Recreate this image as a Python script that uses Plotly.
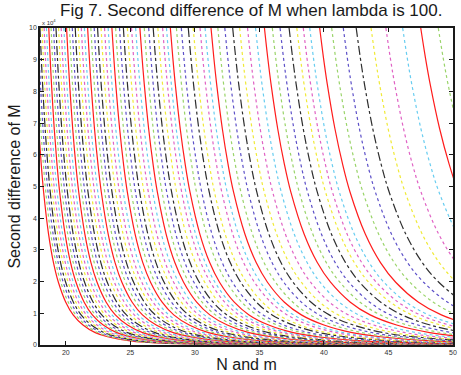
import plotly.graph_objects as go

# x position (N) where each curve sits at the top of the axes (y = 10)
curve_start = [
    17.52, 17.68, 17.84, 18.0, 18.16, 18.32, 18.5, 18.68, 18.86, 19.05,
    19.24, 19.44, 19.64, 19.85, 20.06, 20.28, 20.5, 20.73, 20.96, 21.2,
    21.44, 21.69, 21.94, 22.2, 22.46, 22.73, 23.0, 23.28, 23.57, 23.86,
    24.16, 24.46, 24.77, 25.09, 25.41, 25.74, 26.08, 26.42, 26.77, 27.13,
    27.5, 27.8, 28.1, 28.57, 28.95, 29.49, 29.87, 30.4, 30.79, 31.25,
    31.78, 32.32, 32.93, 33.47, 34.08, 34.7, 35.39, 36.0, 36.6, 37.3,
    37.9, 38.4, 38.9, 39.67, 40.6, 41.5, 42.5, 43.65, 44.8, 46.1,
    47.5, 48.86,
]
# horizontal decay length of each curve (same order)
curve_width = [
    3.81, 3.86, 3.92, 3.98, 4.04, 4.10, 4.16, 4.22, 4.29, 4.36,
    4.43, 4.50, 4.57, 4.65, 4.72, 4.80, 4.88, 4.96, 5.05, 5.13,
    5.22, 5.31, 5.40, 5.49, 5.59, 5.68, 5.78, 5.88, 5.99, 6.09,
    6.20, 6.31, 6.42, 6.53, 6.65, 6.77, 6.89, 7.01, 7.14, 7.27,
    7.40, 7.51, 7.62, 7.79, 7.92, 8.12, 8.25, 8.44, 8.58, 8.75,
    8.94, 9.14, 9.35, 9.55, 9.77, 9.99, 10.24, 10.46, 10.68, 10.93,
    11.14, 11.32, 11.50, 11.78, 12.12, 12.44, 12.80, 13.21, 13.63, 14.10,
    14.60, 15.09,
]
# common decay profile: offset (in decay lengths) and second difference value
profile_u = [0, 0.025, 0.05, 0.1, 0.15, 0.2, 0.3, 0.4, 0.5, 0.65, 0.8, 1.0,
             1.25, 1.5, 2, 2.5, 3, 4, 5]
profile_y = [10, 9.06, 8.23, 6.83, 5.72, 4.82, 3.50, 2.60, 1.98, 1.35, 0.95,
             0.63, 0.39, 0.26, 0.12, 0.067, 0.039, 0.016, 0.0077]

x_ticks = [20, 25, 30, 35, 40, 45, 50]
y_ticks = [0, 1, 2, 3, 4, 5, 6, 7, 8, 9, 10]

# colour cycle b g r c m y k as it looks on paper
line_colors = ["#5d50c8", "#9ad46a", "#ff1c1c", "#68cdf0", "#e062c4", "#f0ea38", "#2e2e2e"]
line_dash = ["dot", "dot", "solid", "dot", "dot", "dot", "dashdot"]

fig = go.Figure()
n = len(curve_start)
for i in range(n):
    k = n - 1 - i          # counted from the right-hand curve
    ci = (k + 1) % 7
    x0 = curve_start[i]
    w = curve_width[i]
    fig.add_trace(go.Scatter(
        x=[x0 + w * u for u in profile_u],
        y=profile_y,
        mode="lines",
        line=dict(color=line_colors[ci], width=1.2, dash=line_dash[ci], shape="spline"),
        hoverinfo="skip",
        showlegend=False,
    ))

axis_common = dict(
    showline=True, linecolor="#1a1a1a", linewidth=1.5, mirror="allticks",
    ticks="inside", ticklen=4, tickcolor="#1a1a1a", showgrid=False, zeroline=False,
    tickfont=dict(family="Liberation Sans", size=7, color="#333333"),
)

fig.update_layout(
    width=461, height=375,
    margin=dict(l=40, r=4, t=28, b=30),
    paper_bgcolor="white", plot_bgcolor="white",
    title=dict(text="Fig 7. Second difference of M when lambda is 100.",
               x=0.545, xanchor="center", y=0.972, yanchor="middle",
               font=dict(family="Liberation Sans", size=17, color="#1a1a1a")),
    xaxis=dict(range=[18, 50], tickvals=x_ticks, ticktext=[str(v) for v in x_ticks],
               title=dict(text="N and m", standoff=1,
                          font=dict(family="Liberation Sans", size=16, color="#1a1a1a")),
               **axis_common),
    yaxis=dict(range=[0, 10], tickvals=y_ticks, ticktext=[str(v) for v in y_ticks],
               title=dict(text="Second difference of M", standoff=4,
                          font=dict(family="Liberation Sans", size=16, color="#1a1a1a")),
               **axis_common),
    annotations=[dict(text="x 10<sup>4</sup>", xref="paper", yref="paper",
                      x=0.0, y=1.0, xanchor="left", yanchor="bottom", showarrow=False,
                      font=dict(family="Liberation Sans", size=6, color="#333333"))],
)

fig.write_html("out.html")
